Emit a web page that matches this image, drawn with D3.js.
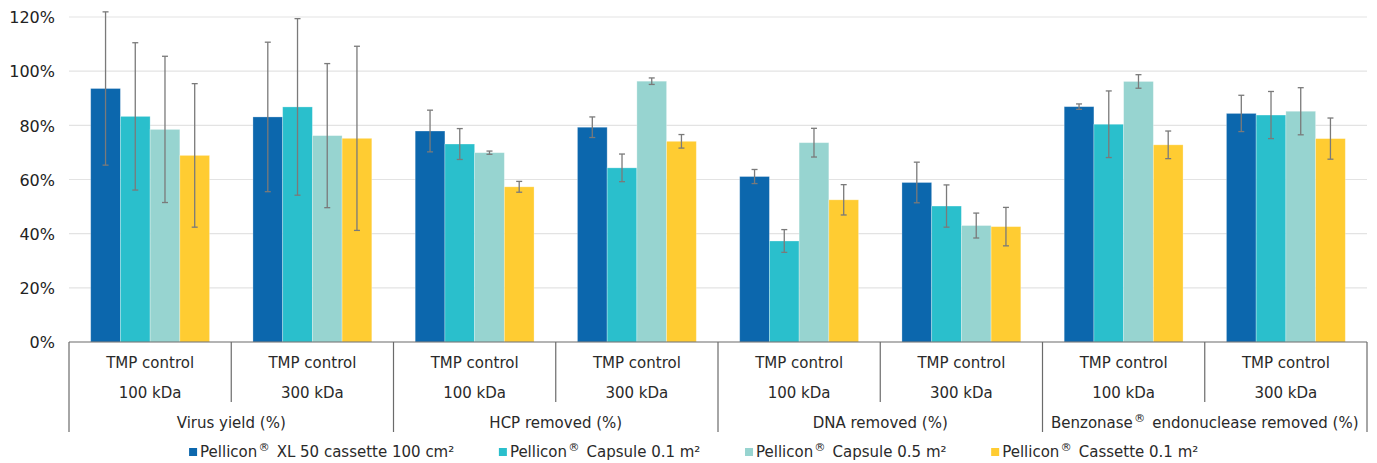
<!DOCTYPE html>
<html>
<head>
<meta charset="utf-8">
<script src="https://cdn.jsdelivr.net/npm/d3@7"></script>
<style>
  html, body { margin: 0; padding: 0; background: #ffffff; }
  svg { display: block; font-family: "DejaVu Sans", Verdana, sans-serif; }
</style>
</head>
<body>
<svg id="chart" width="1377" height="463"></svg>
<script>
// Sub-category (first tier) labels, two lines each
const subLines1 = ["TMP control", "TMP control", "TMP control", "TMP control",
                   "TMP control", "TMP control", "TMP control", "TMP control"];
const subLines2 = ["100 kDa", "300 kDa", "100 kDa", "300 kDa",
                   "100 kDa", "300 kDa", "100 kDa", "300 kDa"];
// Outer (second tier) groups, each spanning two sub-categories
const groups = ["Virus yield (%)", "HCP removed (%)", "DNA removed (%)", "Benzonase® endonuclease removed (%)"];

const seriesNames = ["Pellicon® XL 50 cassette 100 cm²", "Pellicon® Capsule 0.1 m²",
                     "Pellicon® Capsule 0.5 m²", "Pellicon® Cassette 0.1 m²"];
const seriesColors = ["#0c67ad", "#2abfcc", "#97d4d0", "#ffcc32"];

// Mean values (%) per series, in sub-category order
const xl50Cassette = [93.6, 83.1, 77.9, 79.3, 61.1, 58.9, 86.9, 84.4];
const capsule01    = [83.3, 86.8, 73.1, 64.3, 37.3, 50.2, 80.4, 83.8];
const capsule05    = [78.5, 76.2, 69.9, 96.3, 73.6, 43.0, 96.2, 85.2];
const cassette01   = [68.9, 75.2, 57.3, 74.1, 52.5, 42.6, 72.8, 75.1];
// Standard deviations (%) for the error bars
const xl50CassetteSd = [28.3, 27.6, 7.7, 3.8, 2.6, 7.5, 1.0, 6.7];
const capsule01Sd    = [27.2, 32.6, 5.7, 5.1, 4.2, 7.8, 12.3, 8.7];
const capsule05Sd    = [27.0, 26.6, 0.6, 1.2, 5.3, 4.6, 2.5, 8.7];
const cassette01Sd   = [26.5, 34.0, 2.0, 2.5, 5.6, 7.1, 5.1, 7.6];

const yTicks = [0, 20, 40, 60, 80, 100, 120];

const seriesValues = [xl50Cassette, capsule01, capsule05, cassette01];
const seriesSd = [xl50CassetteSd, capsule01Sd, capsule05Sd, cassette01Sd];

const svg = d3.select("#chart");
const plot = { left: 69, right: 1367, top: 17, bottom: 342 };

const catIdx = d3.range(subLines1.length);
const x0 = d3.scaleBand().domain(catIdx).range([plot.left, plot.right]).paddingInner(0).paddingOuter(0);
const x1 = d3.scaleBand().domain(d3.range(seriesNames.length)).range([0, x0.bandwidth()])
  .paddingInner(0).paddingOuter(0.73);
const y = d3.scaleLinear().domain([0, 120]).range([plot.bottom, plot.top]);

// Gridlines
svg.append("g")
  .selectAll("line").data(yTicks.filter(t => t > 0)).join("line")
  .attr("x1", plot.left).attr("x2", plot.right)
  .attr("y1", d => y(d)).attr("y2", d => y(d))
  .attr("stroke", "#e3e3e3").attr("stroke-width", 1.2);

// Y axis labels
const yAxis = d3.axisLeft(y).tickValues(yTicks).tickFormat(d => d + "%").tickSize(0).tickPadding(14);
const yg = svg.append("g").attr("transform", `translate(${plot.left},0)`).call(yAxis);
yg.select(".domain").remove();
yg.selectAll("text").attr("font-size", 16).attr("fill", "#222222")
  .attr("font-family", "DejaVu Sans, Verdana, sans-serif").attr("dy", "0.36em");

// Bars
const rows = [];
seriesValues.forEach((vals, s) => vals.forEach((v, c) => rows.push({ s, c, v, sd: seriesSd[s][c] })));

svg.append("g").selectAll("rect").data(rows).join("rect")
  .attr("x", d => x0(d.c) + x1(d.s))
  .attr("width", x1.bandwidth())
  .attr("y", d => y(d.v))
  .attr("height", d => y(0) - y(d.v))
  .attr("fill", d => seriesColors[d.s])
  .attr("stroke", "rgba(255,255,255,0.35)").attr("stroke-width", 0.8);

// Error bars
const eg = svg.append("g").attr("stroke", "#7a7a7a").attr("stroke-width", 1.3).attr("fill", "none");
const cap = 3;
rows.forEach(d => {
  const cx = x0(d.c) + x1(d.s) + x1.bandwidth() / 2;
  const yt = y(d.v + d.sd), yb = y(d.v - d.sd);
  eg.append("line").attr("x1", cx).attr("x2", cx).attr("y1", yt).attr("y2", yb);
  eg.append("line").attr("x1", cx - cap).attr("x2", cx + cap).attr("y1", yt).attr("y2", yt);
  eg.append("line").attr("x1", cx - cap).attr("x2", cx + cap).attr("y1", yb).attr("y2", yb);
});

// Multi-level category axis
const axisColor = "#6b6b6b";
const ax = svg.append("g").attr("stroke", axisColor).attr("stroke-width", 1.2);
ax.append("line").attr("x1", plot.left).attr("x2", plot.right).attr("y1", plot.bottom).attr("y2", plot.bottom);
d3.range(subLines1.length + 1).forEach(i => {
  const xx = i < subLines1.length ? x0(i) : plot.right;
  const outer = i % 2 === 0;
  ax.append("line").attr("x1", xx).attr("x2", xx)
    .attr("y1", plot.bottom).attr("y2", outer ? 432 : 402);
});

// Helper: write a label where "®" is drawn as a small raised mark
function richText(sel, str) {
  const parts = str.split("®");
  parts.forEach((p, i) => {
    if (i > 0) {
      sel.append("tspan").attr("font-size", "0.75em").attr("dy", "-0.6em").attr("dx", "0.1em").text("®");
      sel.append("tspan").attr("dy", "0.45em").attr("dx", "0.15em").text(p);
    } else {
      sel.append("tspan").text(p);
    }
  });
}

const labelColor = "#2a2a2a";
const lab = svg.append("g").attr("font-size", 15).attr("fill", labelColor).attr("text-anchor", "middle");
catIdx.forEach(i => {
  const cx = x0(i) + x0.bandwidth() / 2;
  lab.append("text").attr("x", cx).attr("y", 363).attr("dy", "0.36em").text(subLines1[i]);
  lab.append("text").attr("x", cx).attr("y", 393).attr("dy", "0.36em").text(subLines2[i]);
});
groups.forEach((g, gi) => {
  const cx = x0(gi * 2) + x0.bandwidth();
  const t = lab.append("text").attr("x", cx).attr("y", 423).attr("dy", "0.36em");
  richText(t, g);
});

// Legend, laid out left to right and centred under the chart
const leg = svg.append("g").attr("font-size", 15).attr("fill", labelColor);
const items = seriesNames.map((name, i) => {
  const g = leg.append("g");
  g.append("rect").attr("x", 0).attr("y", -4).attr("width", 8).attr("height", 8).attr("fill", seriesColors[i]);
  const t = g.append("text").attr("x", 11).attr("y", 0).attr("dy", "0.36em");
  richText(t, name);
  return { g, w: 11 + t.node().getComputedTextLength() };
});
const gap = 48;
const total = d3.sum(items, d => d.w) + gap * (items.length - 1);
let lx = 692 - total / 2;
items.forEach(it => {
  it.g.attr("transform", `translate(${lx},452)`);
  lx += it.w + gap;
});
</script>
</body>
</html>
